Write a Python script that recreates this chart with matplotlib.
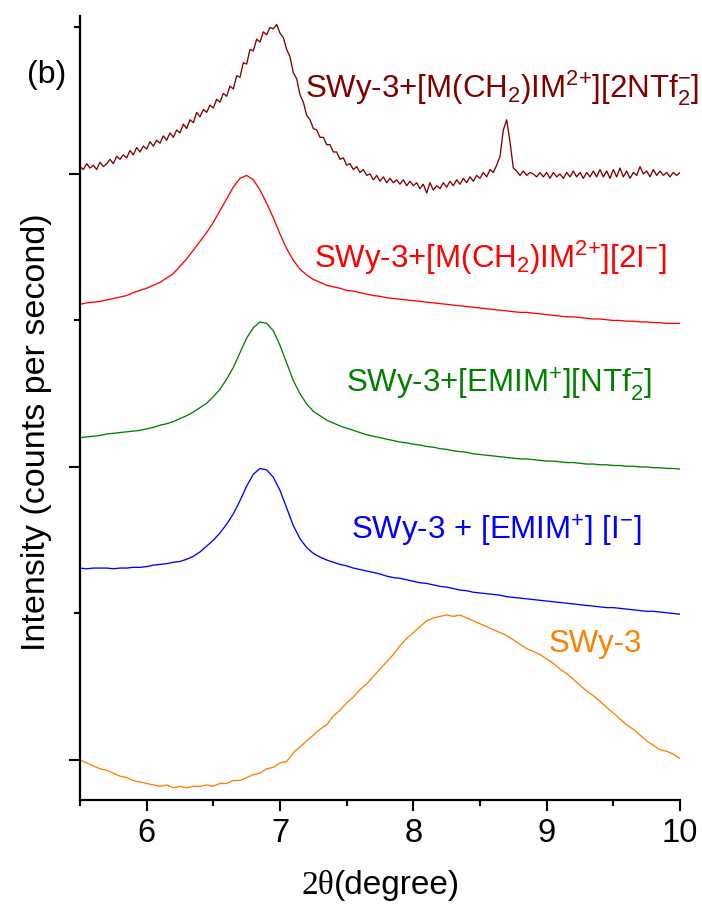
import numpy as np
import matplotlib
matplotlib.use("Agg")
import matplotlib.pyplot as plt
from matplotlib.ticker import MultipleLocator, NullFormatter

plt.rcParams['font.family'] = ['Liberation Sans', 'DejaVu Sans']
plt.rcParams['mathtext.fontset'] = 'custom'
plt.rcParams['mathtext.rm'] = 'Liberation Sans'
plt.rcParams['mathtext.it'] = 'Liberation Sans:italic'
plt.rcParams['mathtext.bf'] = 'Liberation Sans:bold'
plt.rcParams['mathtext.default'] = 'regular'

# ---------------- data (offset-stacked XRD patterns, arbitrary units) ----------------
two_theta_fine = np.linspace(5.5, 10.0, 181)   # 0.025 deg step
two_theta = np.linspace(5.5, 10.0, 91)         # 0.05 deg step

ntf2_dication = [
    405, 403, 407, 404, 406, 403, 408, 405, 407, 410, 407, 412, 410, 413, 411, 416, 413, 418, 415, 419,
    417, 422, 419, 423, 421, 426, 423, 428, 425, 430, 428, 434, 431, 437, 435, 442, 439, 444, 442, 447,
    445, 451, 449, 455, 453, 460, 458, 467, 466, 476, 475, 485, 484, 492, 490, 497, 495, 500, 499, 502,
    496, 493, 485, 480, 469, 465, 454, 449, 440, 437, 431, 430, 425, 425, 420, 420, 415, 415, 410, 411,
    406, 407, 403, 405, 401, 403, 399, 400, 396, 399, 395, 398, 394, 397, 394, 396, 393, 396, 392, 395,
    392, 394, 390, 393, 387, 394, 389, 392, 390, 394, 391, 395, 392, 396, 393, 397, 394, 398, 395, 399,
    397, 401, 398, 403, 401, 406, 412, 430, 437, 422, 404, 402, 399, 402, 399, 401, 400, 398, 401, 398,
    401, 397, 401, 398, 400, 397, 401, 398, 402, 398, 401, 397, 401, 398, 402, 398, 403, 398, 402, 397,
    403, 398, 404, 398, 402, 397, 401, 399, 405, 400, 402, 398, 403, 399, 402, 399, 401, 398, 401, 399,
    401,
]

i2_dication = [
    311, 312, 312.5, 313, 314, 315, 316, 317, 319, 320.5,
    322, 324, 326, 329, 332, 337, 342, 348, 354, 360,
    367, 375, 383, 391, 397, 399, 396, 389, 380, 370,
    359, 349, 341, 335, 331, 328, 326, 324, 323, 322,
    320.5, 320, 319, 318, 317, 316.5, 315.5, 315, 314.5, 314,
    313.5, 313, 312.5, 312, 311.5, 311, 310.5, 310, 309.5, 309,
    308.5, 308, 307.5, 307, 306.5, 306, 305.5, 305.5, 305, 304.5,
    304, 303.5, 303, 302.5, 302.5, 302, 301.5, 301, 301, 300.5,
    300, 300, 299.5, 299.5, 299, 299, 298.5, 298.5, 298, 298,
    298,
]

ntf2_emim = [
    220, 220.5, 221, 221.5, 222.5, 223, 223.5, 224, 224.5, 225,
    226, 227, 228.5, 229.5, 231, 233, 235, 237.5, 240.5, 243.5,
    248, 253, 260, 268, 278, 288, 295, 299, 298, 293,
    283, 271, 259, 250, 243, 238, 235, 232, 230, 228,
    226.5, 225, 223.5, 222, 221, 220, 219, 218, 217, 216.5,
    215.5, 215, 214, 213.5, 212.5, 212, 211, 210.5, 210, 209,
    208.5, 208, 207.5, 207, 206.5, 206, 205.5, 205.5, 205, 204.5,
    204, 204, 203.5, 203, 203, 202.5, 202, 202, 201.5, 201.5,
    201, 201, 200.5, 200.5, 200, 200, 199.5, 199.5, 199, 199,
    198.5,
]

i_emim = [
    131, 130.5, 131, 131, 131, 130.5, 131, 131, 131.5, 131.5,
    132, 133, 133.5, 134, 135, 135.5, 137, 139, 142, 146,
    150, 155, 161, 168, 177, 187, 195, 199, 198, 193,
    184, 172, 160, 151, 145, 141, 138.5, 136.5, 135, 133.5,
    132.5, 131, 130, 129, 128, 127, 125.5, 124.5, 124, 123,
    122, 121, 120.5, 119.5, 118.5, 118, 117, 116, 115.5, 114.5,
    114, 113.5, 113, 112.5, 111.5, 111, 110.5, 110, 109.5, 109,
    108.5, 108, 107.5, 107, 106.5, 106, 105.5, 105, 104.5, 104,
    104, 103.5, 103, 102.5, 102, 101.5, 101.5, 101, 100.5, 100,
    99.5,
]

swy3 = [
    0, -2, -4, -6, -7, -9, -11, -12, -14, -15,
    -16, -17, -18, -17, -19, -18, -19, -18, -18, -17,
    -18, -16, -16, -14, -14, -12, -10, -9, -6, -5,
    -2, -1, 5, 9, 13, 17, 21, 24, 30, 34,
    39, 43, 48, 52, 57, 62, 67, 72, 78, 83,
    87, 91, 95, 97, 98, 99, 98, 99, 97, 95,
    93, 91, 89, 87, 85, 82, 79, 76, 74, 72,
    69, 66, 62, 59, 55, 51, 47, 44, 40, 36,
    32, 28, 24, 21, 17, 13, 10, 7, 6, 4,
    1,
]

labels = [
    r"SWy-3+[M(CH$_2$)IM$^{2{+}}$][2NTf$_2^{-}$]",
    r"SWy-3+[M(CH$_2$)IM$^{2{+}}$][2I$^{-}$]",
    r"SWy-3+[EMIM$^{+}$][NTf$_2^{-}$]",
    r"SWy-3 + [EMIM$^{+}$] [I$^{-}$]",
    r"SWy-3",
]
colors = ["#800000", "#FF0000", "#008000", "#0000FF", "#FF8000"]
xtick_labels = ["6", "7", "8", "9", "10"]

# ---------------- figure ----------------
W, H = 702, 911
fig = plt.figure(figsize=(W / 100, H / 100), dpi=100)
ax = fig.add_axes([80 / W, 1 - 800 / H, 600 / W, 784 / H])

series = [(two_theta_fine, ntf2_dication), (two_theta, i2_dication),
          (two_theta, ntf2_emim), (two_theta, i_emim), (two_theta, swy3)]
for (xx, yy), c in zip(series, colors):
    ax.plot(xx, yy, color=c, lw=0.95)

ax.set_xlim(5.5, 10.0)
ax.set_ylim(-27.3, 507.8)

for s in ["top", "right"]:
    ax.spines[s].set_visible(False)
for s in ["left", "bottom"]:
    ax.spines[s].set_linewidth(1.6)

ax.set_xticks([6, 7, 8, 9, 10])
ax.set_xticklabels(xtick_labels)
ax.xaxis.set_minor_locator(MultipleLocator(0.5))
ax.yaxis.set_major_locator(MultipleLocator(200))
ax.yaxis.set_minor_locator(MultipleLocator(100))
ax.yaxis.set_major_formatter(NullFormatter())
ax.tick_params(which="major", direction="out", length=8, width=1.5, labelsize=23.5, pad=5)
ax.tick_params(which="minor", direction="out", length=4.5, width=1.5)

# curve labels (right edge pixel, baseline pixel)
label_pos = [(699, 98), (667, 268), (652, 392), (642, 540), (642, 652)]
for lab, c, (px, py) in zip(labels, colors, label_pos):
    fig.text(px / W, 1 - py / H, lab, color=c, fontsize=22.5, ha="right", va="baseline")

fig.text(47 / W, 1 - 75 / H, "(b)", fontsize=23, ha="center", va="center")
fig.text(37 / W, 1 - 432 / H, "Intensity (counts per second)", fontsize=24.5,
         rotation=90, ha="center", va="center")

# x label: "2θ" in serif, "(degree)" in sans
fig.canvas.draw()
r = fig.canvas.get_renderer()
t1 = fig.text(0, 1 - 894 / H, "2θ", family="Liberation Serif", fontsize=24, va="baseline")
t2 = fig.text(0, 1 - 894 / H, "(degree)", fontsize=24, va="baseline")
w1 = t1.get_window_extent(r).width
w2 = t2.get_window_extent(r).width
x0 = 381 - (w1 + w2) / 2
t1.set_x(x0 / W)
t2.set_x((x0 + w1) / W)

fig.savefig("out.png", dpi=100)
